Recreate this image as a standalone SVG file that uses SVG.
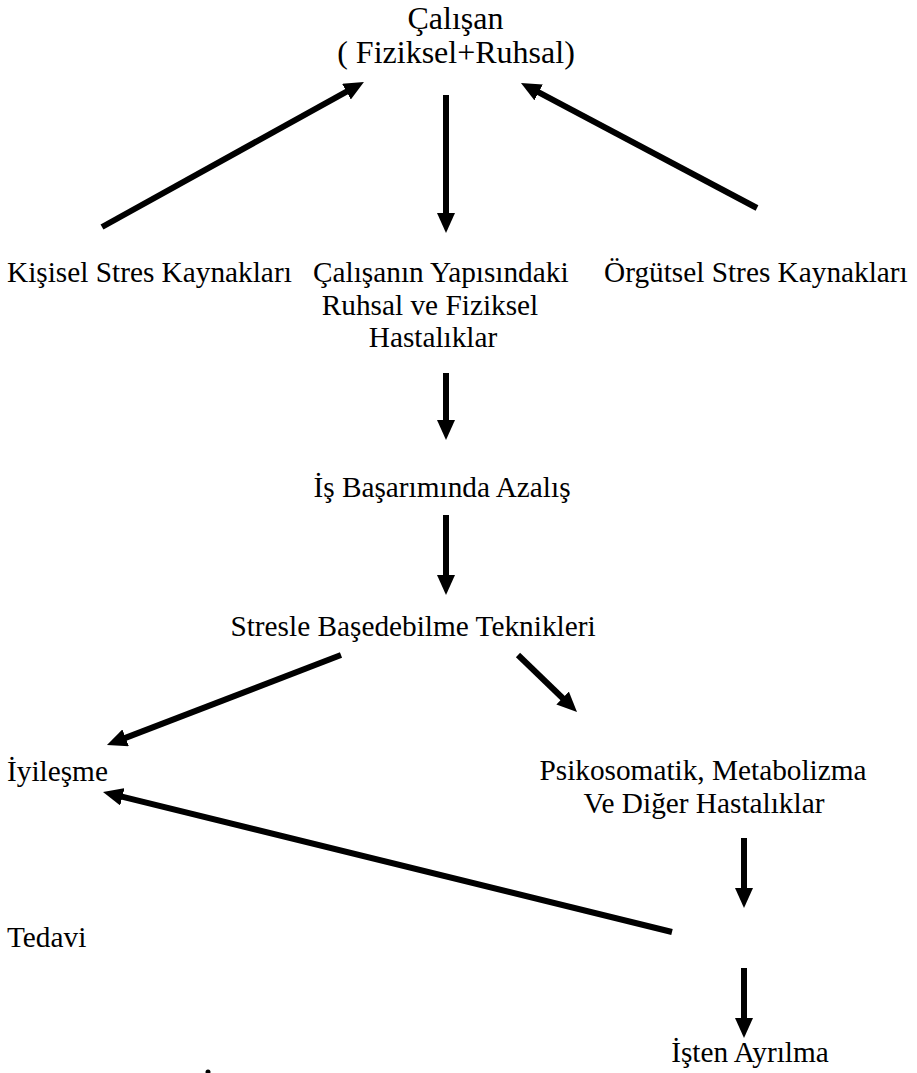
<svg xmlns="http://www.w3.org/2000/svg" width="917" height="1073" viewBox="0 0 917 1073">
<style>
.t{font-size:29.3px;fill:#000}
.big{font-size:32px}
.c{text-anchor:middle}
.conn line{stroke:#000;stroke-width:6;marker-end:url(#ah)}
</style>
<defs>
<marker id="ah" markerUnits="userSpaceOnUse" markerWidth="20" markerHeight="18" refX="10" refY="9" orient="auto">
<path d="M0,0 L20,9 L0,18 Z" fill="#000"/>
</marker>
</defs>
<rect width="917" height="1073" fill="#fff"/>
<g class="t" font-family="Liberation Serif, DejaVu Serif, serif">
<g id="calisan" class="big"><text class="c" x="455.5" y="28.5">Çalışan</text><text class="c" x="456" y="63">( Fiziksel+Ruhsal)</text></g>
<g id="kisisel"><text x="7" y="282">Kişisel Stres Kaynakları</text></g>
<g id="yapisindaki"><text x="313" y="282">Çalışanın Yapısındaki</text><text class="c" x="430" y="315">Ruhsal ve Fiziksel</text><text class="c" x="433" y="347">Hastalıklar</text></g>
<g id="orgutsel"><text x="604" y="282">Örgütsel Stres Kaynakları</text></g>
<g id="basarim"><text class="c" x="442" y="497">İş Başarımında Azalış</text></g>
<g id="teknikler"><text class="c" x="413" y="636">Stresle Başedebilme Teknikleri</text></g>
<g id="iyilesme"><text x="7" y="781">İyileşme</text></g>
<g id="psikosomatik"><text class="c" x="703" y="780">Psikosomatik, Metabolizma</text><text class="c" x="704" y="813">Ve Diğer Hastalıklar</text></g>
<g id="tedavi"><text x="7" y="947">Tedavi</text></g>
<g id="ayrilma"><text class="c" x="750" y="1062">İşten Ayrılma</text></g>
</g>
<g id="mark"><circle cx="208" cy="1072" r="2.5" fill="#000"/></g>
<g class="conn" id="connectors">
<line x1="102" y1="227" x2="355.2" y2="86.8"/>
<line x1="757" y1="208" x2="529.8" y2="87.7"/>
<line x1="446" y1="95" x2="446" y2="223"/>
<line x1="446" y1="373" x2="446" y2="430"/>
<line x1="446" y1="515" x2="446" y2="585"/>
<line x1="341" y1="655" x2="116.3" y2="741.4"/>
<line x1="518" y1="655" x2="569.8" y2="705"/>
<line x1="744" y1="838" x2="744" y2="898"/>
<line x1="672" y1="932" x2="112.7" y2="794.4"/>
<line x1="744" y1="968" x2="744" y2="1028"/>
</g>
</svg>
